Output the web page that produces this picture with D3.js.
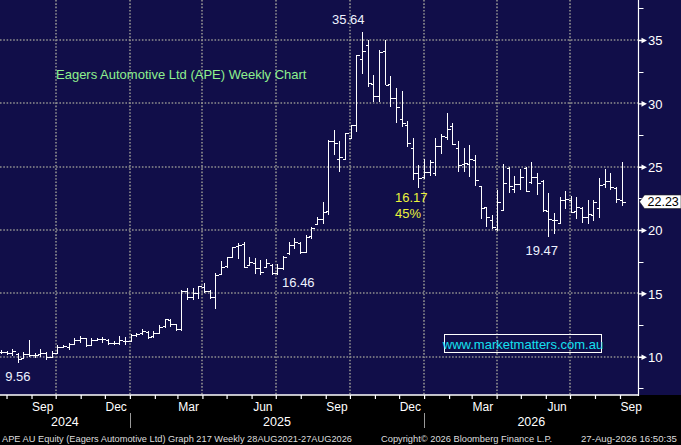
<!DOCTYPE html>
<html><head><meta charset="utf-8">
<script src="https://cdn.jsdelivr.net/npm/d3@7/dist/d3.min.js"></script>
<style>html,body{margin:0;padding:0;background:#000;overflow:hidden}</style>
</head><body><svg id="c" width="681" height="445"></svg>
<script>
// ---- data (weekly OHLC, APE) ----
const firstBar = new Date(2024, 6, 25);   // plotted period date of first weekly bar
const lastBar  = new Date(2026, 8, 3);
const opens  = [10.4,10.35,10.3,10.2,9.9,10.2,10.15,10.2,10.3,10.0,10.3,10.8,10.8,11.0,11.35,11.45,10.9,11.35,11.4,11.35,11.05,11.1,11.25,11.25,11.7,11.85,11.95,11.6,11.9,12.4,12.9,12.55,
  12.2,15.15,14.75,15.0,15.5,15.15,14.7,16.5,17.16,17.9,18.7,18.9,17.2,17.4,17.0,17.1,17.24,16.6,17.0,18.17,18.8,19.0,18.3,19.5,20.45,20.85,21.51,27.0,25.6,25.6,27.25,28.3,33.5,34.6,31.5,30.54,34.15,31.5,30.4,28.8,28.3,26.5,24.49,
  24.22,24.6,24.5,26.6,27.38,28.2,26.5,25.2,25.2,25.54,23.48,21.8,20.8,20.1,21.6,24.9,23.2,23.6,24.9,23.8,24.2,23.9,21.5,20.8,20.58,22.4,22.38,21.5,21.7,21.0,21.2,21.7,23.6,23.9,23.3,22.4];
const highs  = [10.5,10.45,10.6,10.3,10.4,11.3,10.3,10.6,10.4,10.45,10.9,10.95,11.1,11.45,11.6,11.5,11.45,11.5,11.55,11.4,11.2,11.6,11.55,11.8,11.9,12.15,12.0,12.0,12.5,13.0,13.0,12.6,
  15.27,15.4,15.45,15.55,15.8,15.3,16.6,17.56,17.9,18.69,19.0,19.05,17.9,17.8,17.64,17.7,17.3,17.32,17.95,19.08,19.35,19.08,19.61,20.27,21.06,22.25,27.12,27.91,26.99,27.65,28.3,33.83,35.64,35.0,32.25,34.22,35.0,32.12,31.2,30.94,28.57,27.25,25.15,
  25.59,25.54,27.25,27.59,29.22,28.43,26.99,26.46,26.72,25.93,23.48,21.8,21.19,23.17,25.22,25.0,24.27,24.8,25.0,25.35,24.53,23.96,22.9,21.32,22.58,23.11,22.69,22.58,21.85,22.38,22.38,24.09,24.8,24.48,23.38,25.38];
const lows   = [10.25,10.2,10.1,9.56,9.85,10.0,9.95,10.0,9.8,9.95,10.25,10.7,10.6,11.0,11.1,10.8,10.85,11.25,11.15,10.95,10.95,11.0,11.0,11.2,11.6,11.75,11.45,11.5,11.9,12.3,12.4,12.1,
  12.1,14.5,14.5,14.6,15.1,14.6,13.82,16.5,17.06,17.9,17.72,17.06,17.16,16.58,16.5,17.06,16.46,16.5,16.9,18.03,18.56,18.11,18.2,19.35,20.4,20.53,21.19,25.94,24.62,25.55,27.25,27.78,32.39,31.33,30.15,30.15,31.47,29.75,28.52,28.17,26.6,23.96,23.35,
  24.09,24.27,24.3,26.01,27.12,26.72,24.61,24.61,24.22,23.48,20.93,20.27,20.14,19.95,21.59,22.95,22.95,23.17,23.03,23.69,22.77,21.45,19.47,19.75,20.58,21.72,21.37,20.93,20.58,20.53,20.74,21.01,23.38,23.17,22.16,21.9];
const closes = [10.35,10.3,10.45,9.8,10.2,10.1,10.15,10.3,10.0,10.3,10.75,10.85,11.0,11.35,11.5,10.9,11.35,11.4,11.4,11.05,11.1,11.3,11.2,11.7,11.8,12.0,11.55,11.85,12.35,12.95,12.6,12.2,
  15.2,14.7,15.0,15.55,15.2,14.75,16.45,17.11,17.85,18.69,18.82,17.06,17.5,16.98,16.71,17.37,16.6,16.98,17.9,18.82,19.08,18.29,19.48,20.14,20.85,21.45,26.99,26.86,25.73,27.65,28.3,33.83,34.15,31.6,30.54,34.09,31.47,30.41,29.75,28.44,26.86,24.49,24.09,
  24.61,25.4,26.6,27.4,27.96,26.78,25.14,25.27,25.59,23.96,21.72,21.01,20.22,22.24,23.74,23.48,23.64,24.22,23.09,24.22,23.74,21.6,20.85,20.8,22.38,22.43,21.45,21.8,21.06,21.27,22.24,23.56,23.9,23.38,22.43,22.23];
const priceTicks = [10, 15, 20, 25, 30, 35];
const minorTicks = [7.5, 12.5, 17.5, 22.5, 27.5, 32.5, 37.5];
const lastPrice = 22.23;
const annotations = [
  {text: "35.64", x: new Date(2025, 8, 29), v: 36.26, color: "#eef2ff"},
  {text: "16.17", x: new Date(2025, 11, 16), v: 22.21, color: "#ecf23c"},
  {text: "45%",   x: new Date(2025, 11, 12), v: 20.95, color: "#ecf23c"},
  {text: "16.46", x: new Date(2025, 6, 29), v: 15.5, color: "#eef2ff"},
  {text: "19.47", x: new Date(2026, 4, 27), v: 18.0, color: "#eef2ff"},
  {text: "9.56",  x: new Date(2024, 7, 15), v: 8.08, color: "#eef2ff"}
];
const titleText = "Eagers Automotive Ltd (APE) Weekly Chart";
const watermark = "www.marketmatters.com.au";
const footer = ["APE AU Equity (Eagers Automotive Ltd) Graph 217 Weekly 28AUG2021-27AUG2026",
                "Copyright\u00A9 2026 Bloomberg Finance L.P.",
                "27-Aug-2026 16:50:35"];

// ---- layout ----
const W = 681, H = 445, plotR = 638.5, plotB = 395;
const FONT = "Arial, 'Liberation Sans', sans-serif";
const svg = d3.select("#c").style("font-family", FONT);
const x = d3.scaleTime().domain([new Date(2024, 9, 1), new Date(2026, 6, 1)]).range([55.7, 570]);
const y = d3.scaleLinear().domain([10, 35]).range([356.7, 40]);
const dates = d3.timeThursday.range(firstBar, d3.timeDay.offset(lastBar, 1));
const bars = dates.map((d, i) => ({d, o: opens[i], h: highs[i], l: lows[i], c: closes[i]}));

svg.append("rect").attr("width", W).attr("height", plotB).attr("fill", "#110e49");
svg.append("rect").attr("y", plotB).attr("width", W).attr("height", H - plotB).attr("fill", "#000");

// grid
const grid = svg.append("g").attr("stroke", "#8f8f8f").attr("stroke-width", 1.6).attr("stroke-dasharray", "1.6,1.7");
grid.selectAll("line.h").data(priceTicks).join("line").attr("class", "h")
  .attr("x1", 0).attr("x2", plotR).attr("y1", d => Math.round(y(d))).attr("y2", d => Math.round(y(d)));
const quarterDates = d3.timeMonth.every(3).range(new Date(2024, 6, 2), new Date(2026, 8, 30));
grid.selectAll("line.v").data(quarterDates).join("line").attr("class", "v")
  .attr("x1", d => Math.round(x(d))).attr("x2", d => Math.round(x(d))).attr("y1", 0).attr("y2", plotB);

// bars
const bg = svg.append("g").attr("stroke", "#fff").attr("stroke-width", 1).attr("shape-rendering", "crispEdges");
bars.forEach(b => {
  const cx = Math.round(x(b.d)) + 0.5;
  bg.append("line").attr("x1", cx).attr("x2", cx).attr("y1", y(b.h)).attr("y2", y(b.l) + 0.5);
  bg.append("line").attr("x1", cx - 2.5).attr("x2", cx).attr("y1", Math.round(y(b.o)) + 0.5).attr("y2", Math.round(y(b.o)) + 0.5);
  bg.append("line").attr("x1", cx).attr("x2", cx + 3).attr("y1", Math.round(y(b.c)) + 0.5).attr("y2", Math.round(y(b.c)) + 0.5);
});

// axes lines
svg.append("line").attr("x1", plotR).attr("x2", plotR).attr("y1", 0).attr("y2", plotB + 1).attr("stroke", "#fff").attr("stroke-width", 1.2);
svg.append("line").attr("x1", 0).attr("x2", plotR).attr("y1", plotB).attr("y2", plotB).attr("stroke", "#fff").attr("stroke-width", 1.4);

// bottom axis month ticks
const months = d3.timeMonth.range(new Date(2024, 6, 2), new Date(2026, 8, 30)).filter(d => x(d) >= 0 && x(d) <= plotR);
const xAxis = d3.axisBottom(x).tickValues(months).tickSize(4).tickFormat("");
const gx = svg.append("g").attr("transform", `translate(0,${plotB})`).call(xAxis);
gx.select(".domain").remove();
gx.selectAll(".tick line").attr("stroke", "#fff").attr("stroke-width", 1.2);
const labelMonths = months.filter(d => [2, 5, 8, 11].includes(d.getMonth()));
svg.selectAll("text.mon").data(labelMonths).join("text").attr("class", "mon")
  .attr("x", d => x(new Date(d.getFullYear(), d.getMonth(), 15))).attr("y", 410.5)
  .attr("text-anchor", "middle").attr("fill", "#fff").attr("font-size", 12)
  .text(d3.timeFormat("%b"));
const yearStarts = [new Date(2025, 0, 1), new Date(2026, 0, 1)];
svg.selectAll("line.ys").data(yearStarts).join("line").attr("class", "ys")
  .attr("x1", d => Math.round(x(d)) + 0.5).attr("x2", d => Math.round(x(d)) + 0.5)
  .attr("y1", 413).attr("y2", 428).attr("stroke", "#9a9a9a").attr("stroke-width", 1);
const years = [
  {t: "2024", a: 0, b: x(yearStarts[0])},
  {t: "2025", a: x(yearStarts[0]), b: x(yearStarts[1])},
  {t: "2026", a: x(yearStarts[1]), b: plotR}];
svg.selectAll("text.yr").data(years).join("text").attr("class", "yr")
  .attr("x", d => (d.a + d.b) / 2).attr("y", 425.5).attr("text-anchor", "middle")
  .attr("fill", "#fff").attr("font-size", 12.5).text(d => d.t);

// right axis
const yAxis = d3.axisRight(y).tickValues(priceTicks).tickSize(0).tickPadding(9.5).tickFormat(d3.format("d"));
const gy = svg.append("g").attr("transform", `translate(${plotR},0)`).call(yAxis);
gy.select(".domain").remove();
gy.selectAll(".tick text").attr("fill", "#fff").attr("font-size", 13).attr("font-family", FONT).attr("dy", "0.36em");
gy.selectAll(".tick").append("path").attr("d", "M0,-0.7H3V-2.8L8.5,0L3,2.8V0.7H0Z").attr("fill", "#fff");
svg.selectAll("line.minor").data(minorTicks).join("line").attr("class", "minor")
  .attr("x1", plotR).attr("x2", plotR + 5).attr("y1", d => Math.round(y(d)) + 0.5).attr("y2", d => Math.round(y(d)) + 0.5)
  .attr("stroke", "#fff").attr("stroke-width", 1);

// last price tag
const ly = y(lastPrice);
svg.append("path").attr("d", `M${plotR + 1},${ly} L${plotR + 6},${ly - 6.8} H681 V${ly + 6.8} H${plotR + 6} Z`)
  .attr("fill", "#fff").attr("stroke", "#222").attr("stroke-width", 0.6);
svg.append("text").attr("x", plotR + 9).attr("y", ly + 4.3).attr("fill", "#000").attr("font-size", 12.5).text(lastPrice.toFixed(2));

// annotations
svg.selectAll("text.ann").data(annotations).join("text").attr("class", "ann")
  .attr("x", d => x(d.x)).attr("y", d => y(d.v)).attr("text-anchor", "middle")
  .attr("fill", d => d.color).attr("font-size", 13).text(d => d.text);

// title
svg.append("text").attr("x", 56).attr("y", 79).attr("fill", "#8ef08e").attr("font-size", 13).text(titleText);

// watermark
svg.append("rect").attr("x", 444.5).attr("y", 334.5).attr("width", 157).attr("height", 18)
  .attr("fill", "none").attr("stroke", "#fff").attr("stroke-width", 1);
svg.append("text").attr("x", 523).attr("y", 348.5).attr("text-anchor", "middle").attr("fill", "#14e0f0").attr("font-size", 13).text(watermark);

// footer
const fpos = [{x: 2, w: 350}, {x: 381, w: 171}, {x: 581, w: 96}];
svg.selectAll("text.foot").data(footer).join("text").attr("class", "foot")
  .attr("x", (d, i) => fpos[i].x).attr("y", 441.5).attr("fill", "#dedede")
  .attr("font-size", 9.5)
  .attr("textLength", (d, i) => fpos[i].w).attr("lengthAdjust", "spacingAndGlyphs").text(d => d);
</script></body></html>
